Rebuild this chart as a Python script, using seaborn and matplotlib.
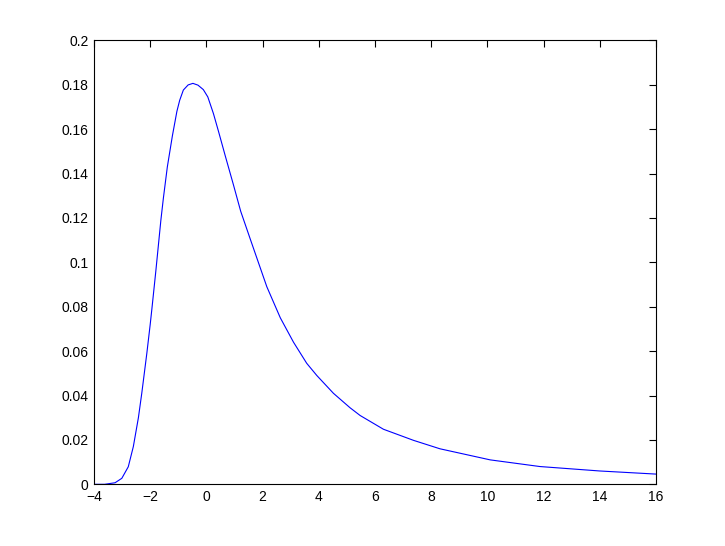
import matplotlib
matplotlib.use("Agg")
import matplotlib.pyplot as plt
import seaborn as sns
import pandas as pd

x_values = [-4.0, -3.62, -3.25, -3.01, -2.78, -2.60, -2.42, -2.30, -2.24, -2.12,
            -2.00, -1.94, -1.80, -1.62, -1.53, -1.39, -1.21, -1.05, -0.95, -0.82,
            -0.65, -0.48, -0.30, -0.11, 0.05, 0.25, 0.43, 0.67, 0.96, 1.22,
            1.56, 2.15, 2.63, 3.10, 3.57, 3.93, 4.52, 5.11, 5.47, 6.30,
            7.37, 8.31, 10.1, 11.87, 14.0, 16.0]
y_values = [0.0, 0.0, 0.0007, 0.0027, 0.0079, 0.017, 0.030, 0.041, 0.047, 0.059,
            0.072, 0.079, 0.096, 0.119, 0.129, 0.143, 0.157, 0.168, 0.173, 0.1776,
            0.1799, 0.1806, 0.1798, 0.1778, 0.1745, 0.167, 0.159, 0.148, 0.135, 0.123,
            0.1105, 0.089, 0.075, 0.064, 0.0545, 0.049, 0.041, 0.0345, 0.031, 0.0248,
            0.0198, 0.0160, 0.0110, 0.0080, 0.0060, 0.0046]

x_ticks = [-4, -2, 0, 2, 4, 6, 8, 10, 12, 14, 16]
x_tick_labels = ["\u22124", "\u22122", "0", "2", "4", "6", "8", "10", "12", "14", "16"]
y_ticks = [0, 0.02, 0.04, 0.06, 0.08, 0.1, 0.12, 0.14, 0.16, 0.18, 0.2]
y_tick_labels = ["0", "0.02", "0.04", "0.06", "0.08", "0.1", "0.12", "0.14", "0.16", "0.18", "0.2"]

sns.set_style("white")
plt.rcParams['font.family'] = ['Liberation Sans', 'DejaVu Sans']

df = pd.DataFrame({"x": x_values, "y": y_values})

fig = plt.figure(figsize=(7.25, 5.46), dpi=100)
ax = fig.add_axes([94 / 725, (546 - 484.3) / 546, (656 - 94) / 725, (484.3 - 40.3) / 546])
sns.lineplot(data=df, x="x", y="y", ax=ax, color=(0, 0, 1), linewidth=0.8)

ax.set_xlim(-4, 16)
ax.set_ylim(0, 0.2)
ax.set_xticks(x_ticks)
ax.set_xticklabels(x_tick_labels)
ax.set_yticks(y_ticks)
ax.set_yticklabels(y_tick_labels)
ax.set_xlabel("")
ax.set_ylabel("")
ax.tick_params(direction="in", length=5, width=0.8, top=True, right=True,
               labelsize=10, colors="black", pad=4)
for s in ax.spines.values():
    s.set_visible(True)
    s.set_color("black")
    s.set_linewidth(0.8)

fig.savefig("out.png", dpi=100, facecolor="white")
